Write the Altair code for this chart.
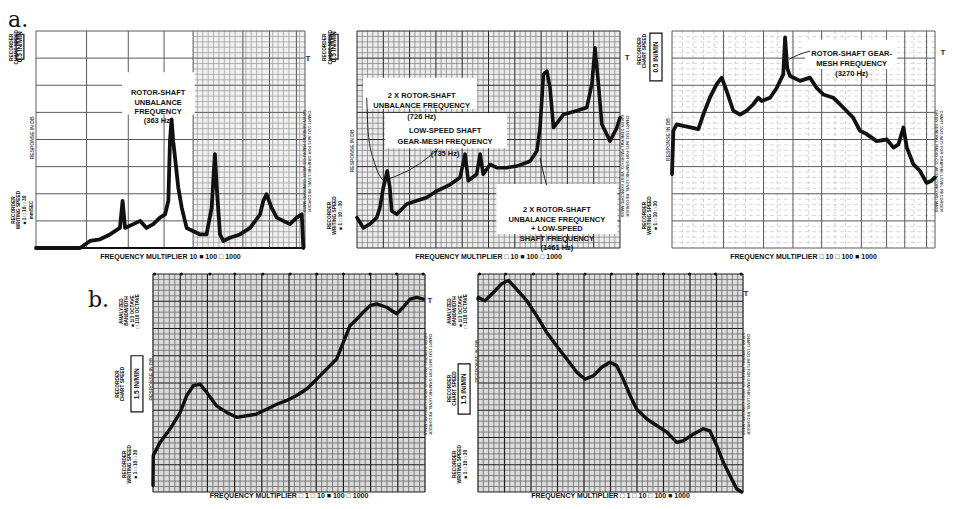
import altair as alt
import numpy as np
import pandas as pd

# ---------------- traces: x = position along the sweep (% of chart width), y = response (dB) ----------------
p1_x = [0, 16.4, 20.1, 23.8, 27.5, 31.2, 32.2, 33.1, 36.2, 38.7, 41.1, 43.6, 46.1, 48.0, 49.2, 49.8, 50.4, 51.0,
        51.7, 52.9, 54.2, 56.0, 58.5, 61.0, 63.4, 65.3, 66.5, 67.2, 68.4, 69.6, 72.1, 75.8, 79.6, 83.3, 84.5, 85.7,
        87.6, 89.5, 91.9, 94.4, 96.9, 98.8, 99.4]
p1_y = [0, 0, 1.3, 1.6, 2.5, 3.7, 8.7, 3.7, 4.4, 5.0, 3.7, 4.4, 5.6, 6.2, 8.7, 19.7, 23.7, 19.7,
        16.6, 11.1, 7.4, 3.7, 3.1, 2.5, 2.5, 7.4, 17.3, 11.1, 2.5, 1.3, 1.9, 2.5, 3.7, 6.2, 8.7, 9.9,
        7.4, 5.6, 5.0, 4.4, 5.6, 6.2, 0]

p2_x = [0, 2.4, 4.9, 7.5, 8.7, 10.0, 11.5, 12.5, 13.2, 15.1, 18.9, 22.7, 26.5, 30.3, 35.4, 39.2, 41.1, 42.3,
        45.5, 46.8, 48.0, 50.6, 53.1, 56.9, 60.8, 65.8, 68.4, 69.6, 70.9, 72.2, 73.4, 74.7, 76.6, 78.5, 83.6,
        87.4, 89.3, 90.5, 91.8, 93.1, 96.2, 98.8, 100]
p2_y = [5.6, 3.7, 4.4, 5.6, 7.4, 11.1, 14.2, 11.1, 6.8, 6.2, 8.1, 8.7, 9.3, 10.5, 11.7, 13.0, 17.3, 12.4,
        13.6, 17.3, 13.6, 15.4, 14.8, 14.8, 15.1, 16.0, 17.9, 22.2, 32.0, 32.6, 29.5, 22.2, 23.4, 24.6, 25.3,
        25.9, 30.2, 36.9, 30.2, 22.8, 19.7, 22.2, 24.0]

p3_x = [0, 0.5, 1.8, 4.3, 7.5, 10.0, 11.9, 14.4, 17.0, 18.9, 20.8, 23.3, 25.9, 28.4, 30.9, 32.8, 34.1, 37.3,
        39.8, 42.3, 43.0, 43.8, 44.9, 48.7, 52.5, 55.0, 57.5, 61.3, 65.1, 68.9, 71.5, 74.0, 77.8, 81.7, 84.2,
        86.1, 88.0, 89.3, 91.8, 94.3, 96.8, 98.7, 100]
p3_y = [13.6, 21.6, 22.8, 22.5, 22.2, 21.9, 24.6, 27.7, 30.2, 31.4, 28.9, 25.3, 24.6, 25.3, 26.5, 27.7, 27.1, 27.7,
        29.5, 32.0, 38.8, 33.2, 31.7, 30.8, 31.4, 29.5, 28.3, 27.7, 25.9, 24.0, 21.6, 21.0, 19.7, 20.0, 18.5,
        19.1, 22.2, 18.5, 15.4, 14.2, 12.0, 12.4, 13.0]

p4_x = [0, 0.1, 2.6, 6.3, 10.0, 12.4, 14.8, 17.3, 19.7, 23.4, 27.1, 30.8, 34.4, 38.1, 41.8, 45.5, 49.2, 52.8,
        56.5, 60.2, 63.9, 67.5, 70.0, 72.4, 74.9, 77.3, 79.8, 82.2, 85.9, 89.6, 92.0, 94.5, 96.9, 99.4]
p4_y = [1.2, 6.7, 9.1, 11.6, 14.6, 17.7, 19.5, 19.8, 18.3, 15.8, 14.6, 13.7, 14.0, 14.3, 15.2, 16.1, 16.8, 17.7,
        18.9, 20.7, 22.6, 24.4, 27.5, 30.5, 31.7, 33.0, 34.2, 34.5, 33.9, 32.7, 33.9, 35.4, 35.7, 35.4]

p5_x = [0, 0.1, 2.6, 5.8, 8.9, 11.5, 14.6, 18.4, 22.2, 25.9, 29.7, 33.5, 37.2, 40.4, 43.5, 46.7, 49.8, 52.3,
        54.8, 57.4, 59.9, 63.7, 67.4, 71.2, 75.0, 77.5, 81.2, 85.0, 87.5, 90.1, 92.6, 95.1, 97.6, 99.5]
p5_y = [35.4, 35.7, 35.1, 36.6, 38.2, 38.8, 37.2, 35.1, 32.3, 29.3, 26.8, 24.4, 22.0, 20.7, 21.3, 22.9, 23.8, 23.2,
        20.7, 17.7, 15.2, 13.4, 12.2, 11.0, 9.1, 9.4, 10.6, 11.6, 11.2, 8.5, 5.4, 3.0, 0.6, 0]

# ---------------- chart paper grid (major lines) ----------------
p1_major_x = [0, 18.8, 34.3, 47.6, 58.4, 76.9, 86.8, 96.8, 100]
p3_major_x = [0, 19.6, 34.8, 46.0, 56.9, 72.0, 81.6, 88.5, 96.8, 100]
fine_major_x = [0, 10, 20, 30, 40, 50, 60, 70, 80, 90, 100]
major_db = [0, 5, 10, 15, 20, 25, 30, 35, 40]
minor_db = [1, 2, 3, 4, 6, 7, 8, 9, 11, 12, 13, 14, 16, 17, 18, 19, 21, 22, 23, 24, 26, 27, 28, 29,
            31, 32, 33, 34, 36, 37, 38, 39]
minor_x = [2, 4, 6, 8, 12, 14, 16, 18, 22, 24, 26, 28, 32, 34, 36, 38, 42, 44, 46, 48, 52, 54, 56, 58,
           62, 64, 66, 68, 72, 74, 76, 78, 82, 84, 86, 88, 92, 94, 96, 98]
p1_minor_x = [60, 62, 64, 66, 68, 70, 72, 74, 78, 80, 82, 84, 88, 90, 92, 94, 98]
p3_minor_x = [4, 8, 12, 16, 24, 28, 40, 52, 62, 66, 76, 92]
sheet = [(0, 100, 0, 40)]

# ---------------- texts ----------------
ann_p1 = "ROTOR-SHAFT\nUNBALANCE\nFREQUENCY\n(363 Hz)"
ann_p2a = "2 X ROTOR-SHAFT\nUNBALANCE FREQUENCY\n(726 Hz)"
ann_p2b = "LOW-SPEED SHAFT\nGEAR-MESH FREQUENCY\n(735 Hz)"
ann_p2c = "2 X ROTOR-SHAFT\nUNBALANCE FREQUENCY\n+ LOW-SPEED\nSHAFT FREQUENCY\n(1461 Hz)"
ann_p3 = "ROTOR-SHAFT GEAR-\nMESH FREQUENCY\n(3270 Hz)"
mult_p1 = "FREQUENCY MULTIPLIER      10   \u25a0 100   \u25a1 1000"
mult_p2 = "FREQUENCY MULTIPLIER   \u25a1 10   \u25a0 100   \u25a1 1000"
mult_p3 = "FREQUENCY MULTIPLIER   \u25a1 10   \u25a1 100   \u25a0 1000"
mult_p4 = "FREQUENCY MULTIPLIER   \u25a1 1   \u25a1 10   \u25a0 100   \u25a1 1000"
mult_p5 = "FREQUENCY MULTIPLIER   \u25a1 1   \u25a1 10   \u25a1 100   \u25a0 1000"
chart_speed = "RECORDER\nCHART SPEED"
writing_speed = "RECORDER\nWRITING SPEED\n\u25a0 1   \u25a1 10   \u25a1 30"
bandwidth = "ANALYZED\nBANDWIDTH\n\u25a0 1/3 OCTAVE\n\u25a1 1/10 OCTAVE"
paper_note = "CHART 1521-9475 FOR GRAPHIC LEVEL RECORDER\nGR BY GENERAL RADIO CO. WEST CONCORD MASS"
response = "RESPONSE IN DB"

XS = alt.Scale(domain=[0, 100], nice=False, zero=False)
YS = alt.Scale(domain=[0, 40], nice=False, zero=False)
FONT = "Liberation Sans"
INK = "#111111"


def X(f="x"):
    return alt.X(f + ":Q", scale=XS, axis=None)


def Y(f="y"):
    return alt.Y(f + ":Q", scale=YS, axis=None)


def vlines(xs, color, width, dash=None):
    df = pd.DataFrame({"x": [float(v) for v in xs]})
    kw = dict(color=color, strokeWidth=width)
    if dash:
        kw["strokeDash"] = dash
    return alt.Chart(df).mark_rule(**kw).encode(x=X())


def hlines(ys, color, width, x0=None, x1=None, dash=None):
    df = pd.DataFrame({"y": [float(v) for v in ys]})
    kw = dict(color=color, strokeWidth=width)
    if dash:
        kw["strokeDash"] = dash
    if x0 is None:
        return alt.Chart(df).mark_rule(**kw).encode(y=Y())
    df["x0"] = x0
    df["x1"] = x1
    return alt.Chart(df).mark_rule(**kw).encode(y=Y(), x=X("x0"), x2="x1:Q")


def trace(xs, ys, width=3.2):
    df = pd.DataFrame({"x": xs, "y": ys, "o": range(len(xs))})
    return alt.Chart(df).mark_line(color=INK, strokeWidth=width, strokeJoin="round", strokeCap="round").encode(
        x=X(), y=Y(), order="o:Q")


def leaders(groups):
    rows = []
    for g, pts in enumerate(groups):
        for i, (x, y) in enumerate(pts):
            rows.append({"x": x, "y": y, "o": i, "g": g})
    df = pd.DataFrame(rows)
    return alt.Chart(df).mark_line(color=INK, strokeWidth=0.9, interpolate="monotone").encode(
        x=X(), y=Y(), order="o:Q", detail="g:N")


def label(rows, size=8, weight="bold", angle=0, align="center", baseline="middle", color=INK, font=FONT, lh=None):
    df = pd.DataFrame(rows, columns=["x", "y", "t"])
    kw = dict(fontSize=size, fontWeight=weight, angle=angle, align=align, baseline=baseline, color=color,
              font=font, lineBreak="\n")
    if lh:
        kw["lineHeight"] = lh
    return alt.Chart(df).mark_text(**kw).encode(x=X(), y=Y(), text="t:N")


def boxes(rows, fill="white", stroke=None, sw=0.0):
    df = pd.DataFrame(rows, columns=["x", "x2", "y", "y2"])
    kw = dict(fill=fill)
    if stroke:
        kw.update(stroke=stroke, strokeWidth=sw)
    return alt.Chart(df).mark_rect(**kw).encode(x=X(), x2="x2:Q", y=Y(), y2="y2:Q")


def fine_grid(paper, minor_col, major_col, minor_w=0.7, major_w=1.0):
    return [
        boxes(sheet, fill=paper),
        vlines(minor_x, minor_col, minor_w),
        hlines(minor_db, minor_col, minor_w),
        vlines(fine_major_x, major_col, major_w),
        hlines(major_db, major_col, major_w),
    ]


def side(spd_x, spd_y, box, box_text, wr_x, wr_y, resp_x, resp_y, t_x, t_y, note_x, note_y, mult, mult_y,
         bw=None):
    bx = (box[0] + box[1]) / 2
    by = (box[2] + box[3]) / 2
    layers = [
        boxes([box], fill="white", stroke=INK, sw=1.2),
        label([(bx, by, box_text)], size=6.5, angle=270),
        label([(spd_x, spd_y, chart_speed)], size=4.8, angle=270, lh=5.5),
        label([(wr_x, wr_y, writing_speed)], size=4.8, angle=270, lh=5.5),
        label([(resp_x, resp_y, response)], size=5, angle=270, color="#555"),
        label([(t_x, t_y, "T")], size=8, color="#333"),
        label([(note_x, note_y, paper_note)], size=4, angle=90, color="#444", lh=5),
        label([(50, mult_y, mult)], size=7, lh=8),
    ]
    if bw:
        layers.append(label([bw], size=4.8, angle=270, lh=5.5))
    return layers


# ---------------- panel a.1 ----------------
panel1 = alt.layer(
    boxes([(58.4, 100, 0, 40)], fill="#f0f0f0"),
    vlines(p1_minor_x, "#9a9a9a", 0.7),
    hlines(minor_db, "#9a9a9a", 0.7, 58.4, 100),
    vlines(p1_major_x, "#5a5a5a", 1.0),
    hlines(major_db, "#5a5a5a", 1.0),
    hlines([0], INK, 1.8),
    boxes([(32, 59, 24.6, 32.4)]),
    trace(p1_x, p1_y, 3.8),
    label([(45.4, 28.5, ann_p1)], size=7.5, lh=9.3),
    *side(-9.1, 37.0, (-7.4, -4.5, 34.8, 39.4), "0.5 IN/MIN", -8.2, 7.0, -1.5, 20.3, 101.1, 34.8, 101.6, 16.0,
          mult_p1, -1.7),
    label([(-1.5, 7.0, "mm/SEC")], size=4.5, angle=270),
    label([(-10.4, 40.74, "a.")], size=22, weight="normal", align="left", baseline="alphabetic",
          font="DejaVu Serif"),
).properties(width=269, height=217)

# ---------------- panel a.2 ----------------
panel2 = alt.layer(
    *fine_grid("#ebebeb", "#7e7e7e", "#2a2a2a", 0.7, 1.0),
    boxes([(2.3, 45.6, 25.6, 31.4), (10.6, 57.0, 18.4, 24.9), (53.0, 99.0, 2.6, 11.8)]),
    trace(p2_x, p2_y, 3.6),
    leaders([
        [(3.7, 27.7), (4.3, 21.0), (6.8, 15.5), (10.0, 12.4)],
        [(30.9, 18.2), (21.4, 14.8), (11.9, 12.7)],
        [(72.1, 11.6), (70.8, 14.0), (69.6, 16.6)],
    ]),
    label([(24.6, 28.1, ann_p2a)], size=7.5, lh=10.5),
    label([(33.5, 21.6, ann_p2b)], size=7.5, lh=11.5),
    label([(76.0, 7.0, ann_p2c)], size=7.5, lh=9.6),
    *side(-12.0, 37.0, (-10.3, -7.2, 34.8, 39.4), "0.5 IN/MIN", -10.3, 6.0, -1.9, 17.9, 102.7, 35.0, 102.7,
          15.1, mult_p2, -1.7),
).properties(width=263, height=217)

# ---------------- panel a.3 ----------------
panel3 = alt.layer(
    vlines(p3_minor_x, "#bdbdbd", 0.7, dash=[3, 3]),
    hlines(minor_db, "#c8c8c8", 0.7, dash=[4, 3]),
    vlines(p3_major_x, "#5a5a5a", 1.0),
    hlines(major_db, "#5a5a5a", 1.0),
    boxes([(50.6, 85.6, 33.0, 38.4)]),
    trace(p3_x, p3_y, 3.8),
    leaders([[(52.5, 36.3), (48.0, 35.6), (44.6, 34.8)]]),
    label([(68.3, 35.7, ann_p3)], size=7.5, lh=10),
    *side(-12.2, 36.3, (-8.4, -3.8, 30.8, 39.6), "0.5 IN/MIN", -10.3, 6.0, -1.5, 20.0, 103.0, 35.9, 102.3,
          16.0, mult_p3, -1.7),
).properties(width=263, height=217)

# ---------------- panel b.1 ----------------
dots = pd.DataFrame({"x": [0.6, 10.4, 20.9, 30.1, 40.4, 50.4, 60.2, 70.0, 79.8, 89.6, 99.3], "y": [40] * 11})
panel4 = alt.layer(
    *fine_grid("#dadada", "#6a6a6a", "#1e1e1e", 0.8, 1.2),
    alt.Chart(dots).mark_point(filled=True, color=INK, size=9, opacity=1).encode(x=X(), y=Y()),
    trace(p4_x, p4_y, 3.4),
    *side(-12.9, 19.8, (-8.1, -3.7, 14.7, 25.0), "1.5 IN/MIN", -10.3, 5.1, -0.7, 20.7, 101.8, 35.0, 101.8, 19.8,
          mult_p4, -0.8, bw=(-11.4, 33.2, bandwidth)),
    label([(-23.9, 33.9, "b.")], size=22, weight="normal", align="left", baseline="alphabetic",
          font="DejaVu Serif"),
).properties(width=272, height=218)

# ---------------- panel b.2 ----------------
panel5 = alt.layer(
    *fine_grid("#dcdcdc", "#6a6a6a", "#1e1e1e", 0.8, 1.2),
    alt.Chart(dots).mark_point(filled=True, color=INK, size=9, opacity=1).encode(x=X(), y=Y()),
    trace(p5_x, p5_y, 3.4),
    *side(-10.6, 19.0, (-7.5, -3.0, 14.3, 23.5), "1.5 IN/MIN", -8.7, 5.1, -0.5, 24.0, 101.1, 36.3, 101.9, 19.8,
          mult_p5, -0.8, bw=(-10.6, 33.2, bandwidth)),
).properties(width=265, height=218)

spacer = alt.Chart(pd.DataFrame({"v": [0]})).mark_point(opacity=0).encode(
    x=alt.value(0), y=alt.value(0)).properties(width=64, height=218)

top = alt.hconcat(panel1, panel2, panel3, spacing=52, bounds="flush")
bottom = alt.hconcat(spacer, panel4, panel5, spacing=53, bounds="flush")
chart = alt.vconcat(top, bottom, spacing=10).properties(
    padding=0, background="white").configure_view(stroke=None)

chart.save("out.html", embed_options={"renderer": "svg", "actions": False})
